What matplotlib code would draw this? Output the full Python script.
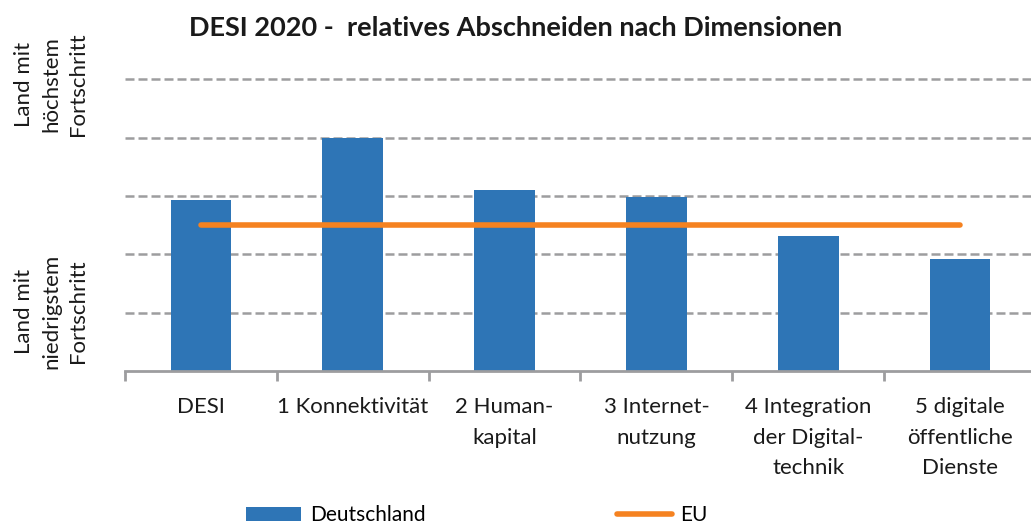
import matplotlib.pyplot as plt
from matplotlib.lines import Line2D
from matplotlib.patches import Patch

# categories and values (scale 0 = lowest, 5 = highest progress)
categories = ["DESI", "1 Konnektivität", "2 Human-\nkapital", "3 Internet-\nnutzung",
              "4 Integration\nder Digital-\ntechnik", "5 digitale\nöffentliche\nDienste"]
deutschland = [2.93, 4.0, 3.10, 2.99, 2.32, 1.92]
eu = [2.50, 2.50, 2.50, 2.50, 2.50, 2.50]
grid_levels = [1, 2, 3, 4, 5]

blue = "#2E75B6"
orange = "#F58220"
grey = "#9D9D9F"

plt.rcParams['font.family'] = ['Lato', 'DejaVu Sans']

fig = plt.figure(figsize=(10.31, 5.29), dpi=100)
ax = fig.add_axes([125 / 1031, (529 - 371) / 529, (1036 - 125) / 1031, (371 - 60) / 529])

x = list(range(len(categories)))
for g in grid_levels:
    ax.axhline(g, color=grey, lw=1.8, linestyle=(0, (3.6, 1.6)), zorder=1)
ax.bar(x, deutschland, width=0.4, color=blue, zorder=2)
ax.plot(x, eu, color=orange, lw=4, solid_capstyle='round', zorder=3)

ax.set_xlim(-0.5, len(categories) - 0.5)
ax.set_ylim(0, 5.33)
ax.set_yticks([])
ax.set_xticks(x)
ax.set_xticklabels(categories, fontsize=16, color="#1a1a1a", linespacing=1.65, va='top')
ax.tick_params(axis='x', length=0, pad=19)
ax.set_xticks([i - 0.5 for i in range(len(categories) + 1)], minor=True)
ax.tick_params(axis='x', which='minor', length=7, width=2, color=grey)
for s in ['top', 'right', 'left']:
    ax.spines[s].set_visible(False)
ax.spines['bottom'].set_color(grey)
ax.spines['bottom'].set_linewidth(2)

fig.text(516 / 1031, 1 - 28 / 529, "DESI 2020 -  relatives Abschneiden nach Dimensionen",
         ha='center', va='center', fontsize=19.5, fontweight='bold', color="#1a1a1a")

fig.text(51 / 1031, 1 - 84 / 529, "Land mit\nhöchstem\nFortschritt", rotation=90,
         ha='center', va='center', fontsize=16, color="#1a1a1a", linespacing=1.45)
fig.text(51 / 1031, 1 - 311 / 529, "Land mit\nniedrigstem\nFortschritt", rotation=90,
         ha='center', va='center', fontsize=16, color="#1a1a1a", linespacing=1.45)

handles = [Patch(facecolor=blue), Line2D([0], [0], color=orange, lw=4, solid_capstyle='round')]
fig.legend(handles, ["Deutschland", "EU"], loc='center', bbox_to_anchor=(477 / 1031, 1 - 515 / 529),
           ncol=2, frameon=False, fontsize=15, handlelength=2.65, handleheight=0.67,
           handletextpad=0.4, columnspacing=9.2)

plt.savefig("out.png", dpi=100)
